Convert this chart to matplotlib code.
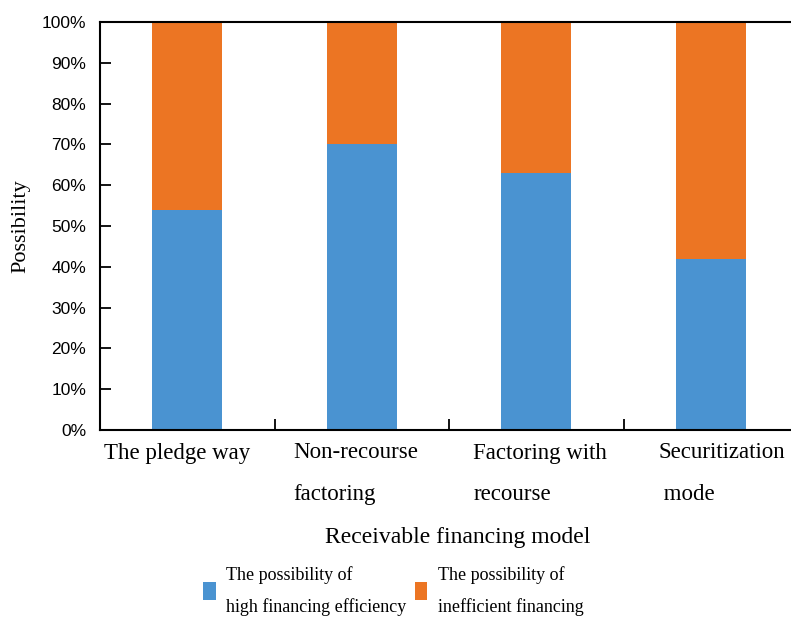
import matplotlib
matplotlib.use("Agg")
import matplotlib.pyplot as plt
from matplotlib.ticker import PercentFormatter, FixedLocator
from matplotlib.transforms import ScaledTranslation

categories = ["The pledge way", "Non-recourse\nfactoring", "Factoring with\nrecourse", "Securitization\n mode"]
high_efficiency = [54, 70, 63, 42]
inefficient = [100 - v for v in high_efficiency]
series_labels = ["The possibility of\nhigh financing efficiency", "The possibility of\ninefficient financing"]

blue = "#4a93d1"
orange = "#ec7523"
serif = "Liberation Serif"

fig = plt.figure(figsize=(7.91, 6.17), dpi=100)
W, H = 791, 617
ax = fig.add_axes([100 / W, 1 - 430 / H, 698 / W, 408 / H])

x = list(range(len(categories)))
b1 = ax.bar(x, high_efficiency, width=0.4, color=blue, label=series_labels[0], zorder=2)
b2 = ax.bar(x, inefficient, width=0.4, bottom=high_efficiency, color=orange,
            label=series_labels[1], zorder=2)

ax.set_xlim(-0.5, len(categories) - 0.5)
ax.set_ylim(0, 100)
ax.set_yticks(range(0, 101, 10))
ax.yaxis.set_major_formatter(PercentFormatter(decimals=0))
ax.tick_params(axis="y", direction="in", length=8, width=1.3, pad=10,
               labelsize=12.5)
for t in ax.get_yticklabels():
    t.set_fontfamily("Liberation Sans")

ax.set_xticks(x)
ax.set_xticklabels(categories, fontfamily=serif, fontsize=16.5, linespacing=2.3,
                   ha="center", multialignment="left", va="top")
ax.tick_params(axis="x", which="major", length=0, pad=9)
ax.xaxis.set_minor_locator(FixedLocator([0.5, 1.5, 2.5]))
ax.tick_params(axis="x", which="minor", direction="in", length=8, width=1.3)

# small horizontal nudges for the category labels (pixels)
nudges = [-10, -6, 4, 11]
for lbl, dx in zip(ax.get_xticklabels(), nudges):
    lbl.set_transform(lbl.get_transform() + ScaledTranslation(dx / 100, 0, fig.dpi_scale_trans))

for s in ax.spines.values():
    s.set_linewidth(1.5)
    s.set_color("black")

ax.set_ylabel("Possibility", fontfamily=serif, fontsize=16, labelpad=8)
ax.set_xlabel("Receivable financing model", fontfamily=serif, fontsize=17)
ax.xaxis.set_label_coords(358 / 698, -97 / 408, transform=ax.transAxes)

leg = fig.legend(handles=[b1, b2], labels=series_labels, loc="upper left",
                 bbox_to_anchor=(203 / W, 1 - 566 / H), ncol=2, frameon=False,
                 prop={"family": serif, "size": 13}, handlelength=0.7,
                 handleheight=1.2, handletextpad=0.6, columnspacing=0.45,
                 borderaxespad=0, borderpad=0)
for t in leg.get_texts():
    t.set_linespacing(2.0)

fig.savefig("out.png", dpi=100)
